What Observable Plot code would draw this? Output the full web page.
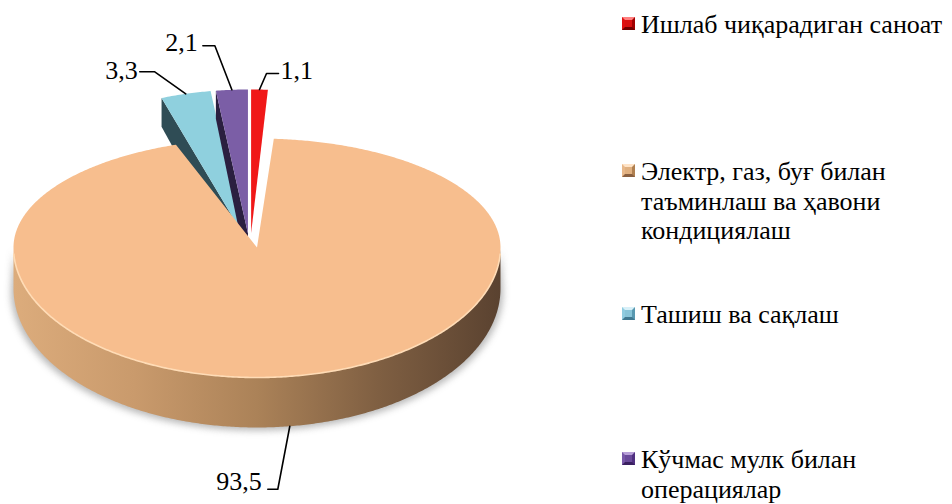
<!DOCTYPE html>
<html><head><meta charset="utf-8">
<script src="https://cdn.jsdelivr.net/npm/d3@7"></script>
<script src="https://cdn.jsdelivr.net/npm/@observablehq/plot@0.6"></script>
<style>
body{margin:0;background:#fff;}
#wrap{position:relative;width:952px;height:504px;overflow:hidden;font-family:"Liberation Serif";}
#chart{position:absolute;left:0;top:0;}
.item{position:absolute;left:641px;font-family:"Liberation Serif";font-size:26px;line-height:29.5px;color:#000;white-space:nowrap;}
.mk{position:absolute;left:622px;width:7px;height:7px;border-style:solid;border-width:3px;}
</style></head>
<body><div id="wrap"><div id="chart"></div><div id="legend"></div></div>
<script>
// ---- data ----
const categories = ["Ишлаб чиқарадиган саноат", "Электр, газ, буғ билан таъминлаш ва ҳавони кондициялаш", "Ташиш ва сақлаш", "Кўчмас мулк билан операциялар"];
const values = [1.1, 93.5, 3.3, 2.1];
const valueLabels = ["1,1", "93,5", "3,3", "2,1"];
const explodedCategories = ["Ишлаб чиқарадиган саноат", "Ташиш ва сақлаш", "Кўчмас мулк билан операциялар"];
const legendLines = [["Ишлаб чиқарадиган саноат"], ["Электр, газ, буғ билан", "таъминлаш ва ҳавони", "кондициялаш"], ["Ташиш ва сақлаш"], ["Кўчмас мулк билан", "операциялар"]];

// ---- styles / layout ----
const FONT = "Liberation Serif";
const topColors = ["#f01818", "#f7be8e", "#8fd0de", "#7b5ea6"];
const sideColors = ["#8e0c0c", "url(#sideGrad)", "#2f4c55", "#2b1f40"];
const markerColors = [["#ff8080","#e01010","#a00000","#700000","#d81010"],["#ffe4c8","#e8b88a","#b08050","#8a6040","#e0b080"],["#d8f0f8","#90cce0","#5898b0","#407890","#88c4d8"],["#b8a0d8","#7858a8","#503080","#3a2060","#6a4a9a"]];
const legendBaselines = [33, 180, 323, 468];
const cx = 256.5, cy = 247, rx = 243.5, ryB = 109, ryF = 130;
const EXS = 1.0, EYS = 1.32, OFF = 0.13, SHIFT = -7;
const leader = [
  {elbow:[7,-16], end:[19,-16], text:[21,-19], anchor:"start"},
  {elbow:[-12,63], end:[-22,63], text:[-28,55], anchor:"end"},
  {elbow:[-31,-22], end:[-46,-22], text:[-48,-23], anchor:"end"},
  {elbow:[-17,-44], end:[-29,-44], text:[-34,-47], anchor:"end"}
];

const total = d3.sum(values);
let acc = 0;
const slices = categories.map((c, i) => {
  const a = acc / total * 2 * Math.PI; acc += values[i];
  const b = acc / total * 2 * Math.PI;
  return {i, c, a, b, mid: (a + b) / 2, exploded: explodedCategories.includes(c)};
});

function proj(s, th, r, top) {
  let u = r * Math.sin(th), v = r * Math.cos(th);
  if (s.exploded) {
    u = u * EXS + OFF * Math.sin(s.mid) + SHIFT / rx;
    v = v * EYS + OFF * Math.cos(s.mid);
  }
  const vy = v >= 0 ? v : v * ryF / ryB;
  const h = (41 - 9 * Math.max(-1, Math.min(v, 1.6))) / ryB;
  return {x: u, y: top ? vy : vy - h};
}
function arc(s, a, b, top) {
  const n = Math.max(2, Math.ceil(Math.abs(b - a) / (0.5 * Math.PI / 180)));
  return d3.range(n + 1).map(k => proj(s, a + (b - a) * k / n, 1, top));
}
const poly = (pts, fill, extra = {}) => Plot.line(pts, {x: "x", y: "y", fill, stroke: "none", curve: "linear", ...extra});
const px = (p, d) => ({x: p.x + d[0] / rx, y: p.y - d[1] / ryB});

const marks = [];
const main = slices.find(s => !s.exploded);
const shadowPts = arc(main, Math.PI / 2, 3 * Math.PI / 2, false).map(p => ({x: p.x * 1.01, y: p.y - 3 / ryB}));
marks.push(poly(shadowPts.concat(arc(main, 3 * Math.PI / 2, Math.PI / 2, true)), "#9a9a9a", {ariaDescription: "shadow"}));

const order = slices.filter(s => s.exploded).sort((p, q) => ((p.mid + Math.PI) % (2 * Math.PI)) - ((q.mid + Math.PI) % (2 * Math.PI)));
for (const s of order) {
  if (Math.cos(s.a - Math.PI / 2) < -0.02) {
    const vt = proj(s, s.a, 0, true), vb = proj(s, s.a, 0, false);
    marks.push(poly([vt, proj(s, s.a, 1, true), proj(s, s.a, 1, false), vb], sideColors[s.i]));
  }
  marks.push(poly([proj(s, s.a, 0, true), ...arc(s, s.a, s.b, true)], topColors[s.i]));
}
const sa = Math.max(main.a, Math.PI / 2), sb = Math.min(main.b, 3 * Math.PI / 2);
marks.push(poly(arc(main, sa, sb, true).concat(arc(main, sb, sa, false)), sideColors[main.i]));
marks.push(poly([proj(main, main.a, 0, true), ...arc(main, main.a, main.b, true)], topColors[main.i]));
marks.push(Plot.line(arc(main, sa + 0.05, sb - 0.05, true), {x: "x", y: "y", stroke: "#ffdcb6", strokeWidth: 1.6, curve: "linear"}));

const labelData = [];
slices.forEach(s => {
  const an = s.exploded ? proj(s, s.mid, 1, true) : proj(s, s.mid, 1, false);
  const L = leader[s.i];
  marks.push(Plot.line([an, px(an, L.elbow), px(an, L.end)], {x: "x", y: "y", stroke: "#000", strokeWidth: 1.6}));
  const t = px(an, L.text);
  labelData.push({...t, label: valueLabels[s.i], anchor: L.anchor});
});
for (const anchor of ["start", "end"]) {
  marks.push(Plot.text(labelData.filter(d => d.anchor === anchor), {x: "x", y: "y", text: "label", textAnchor: anchor, lineAnchor: "middle", fontSize: 26, fontFamily: FONT, fill: "#000"}));
}

const chart = Plot.plot({
  width: 615, height: 504, margin: 0,
  style: {fontFamily: FONT},
  x: {domain: [-1, 1], range: [cx - rx, cx + rx], axis: null},
  y: {domain: [0, 1], range: [cy, cy - ryB], axis: null},
  marks
});
const svgNS = "http://www.w3.org/2000/svg";
const defs = document.createElementNS(svgNS, "defs");
const xs = chart.scale("x");
defs.innerHTML = `<linearGradient id="sideGrad" gradientUnits="userSpaceOnUse" x1="${xs.apply(-1)}" y1="0" x2="${xs.apply(1)}" y2="0">
<stop offset="0" stop-color="#dcac7c"/><stop offset="0.25" stop-color="#c99a6c"/><stop offset="0.5" stop-color="#ab8258"/><stop offset="0.75" stop-color="#7f5f42"/><stop offset="1" stop-color="#5a4230"/></linearGradient>
<filter id="blur" x="-10%" y="-10%" width="120%" height="130%"><feGaussianBlur stdDeviation="3.5"/></filter>`;
chart.insertBefore(defs, chart.firstChild);
const sh = chart.querySelector('g[aria-description="shadow"]');
if (sh) { sh.setAttribute("filter", "url(#blur)"); sh.setAttribute("opacity", "0.7"); }
document.getElementById("chart").appendChild(chart);

const lg = document.getElementById("legend");
categories.forEach((c, i) => {
  const base = legendBaselines[i];
  const m = document.createElement("div");
  m.className = "mk";
  const mc = markerColors[i];
  m.style.top = (base - 16) + "px";
  m.style.borderColor = `${mc[0]} ${mc[2]} ${mc[3]} ${mc[1]}`;
  m.style.background = mc[4];
  lg.appendChild(m);
  const t = document.createElement("div");
  t.className = "item";
  t.style.top = (base - 23) + "px";
  t.innerHTML = legendLines[i].join("<br>");
  lg.appendChild(t);
});
</script></body></html>
